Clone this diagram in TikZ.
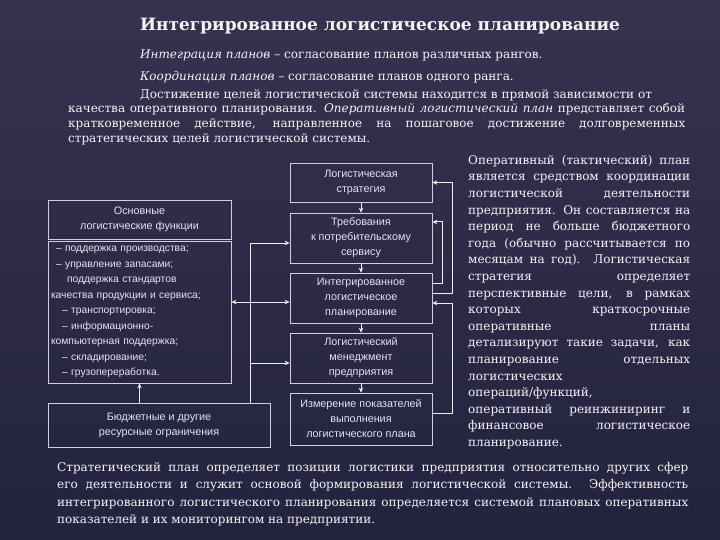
\documentclass[tikz,border=0pt]{standalone}
\usepackage{fontspec}
\setmainfont{DejaVu Serif}
\setsansfont{Liberation Sans}
\usepackage{xcolor}
\usepackage{tikz}
\usetikzlibrary{
    arrows.meta,
    positioning,
    calc
}
\definecolor{slidetop}{HTML}{36324F}
\definecolor{slidebottom}{HTML}{23233F}
\definecolor{boxline}{HTML}{D0D0DC}
\definecolor{boxtext}{HTML}{E4E4EC}
\definecolor{linkline}{HTML}{EDEDF4}
\definecolor{bodytext}{HTML}{F4F4F4}
\hyphenpenalty=10000

\begin{document}
\begin{tikzpicture}[
    x=1pt, y=-1pt,
    box/.style={rectangle, draw=boxline, line width=0.7pt, text=boxtext, align=center, inner sep=2pt, font=\fontsize{10.8}{15}\sffamily},
    body/.style={text=bodytext, inner sep=0pt, font=\fontsize{12}{14.7}\selectfont},
    arr/.style={draw=linkline, line width=1pt, -{Stealth[length=5pt, width=4.5pt]}},
    arrtwo/.style={draw=linkline, line width=1pt, {Stealth[length=5pt, width=4.5pt]}-{Stealth[length=5pt, width=4.5pt]}},
]
    % Background
    \shade[top color=slidetop, bottom color=slidebottom] (0,0) rectangle (720,540);
    \useasboundingbox (0,0) rectangle (720,540);

    % Title
    \node[body, anchor=base, font=\fontsize{17}{20}\selectfont\bfseries] (title) at (380,31) {Интегрированное логистическое планирование};

    % Definitions
    \node[body, anchor=base west] (defint) at (140,59) {\textit{Интеграция планов} – согласование планов различных рангов.};
    \node[body, anchor=base west] (defcoord) at (140,81) {\textit{Координация планов} – согласование планов одного ранга.};
    \node[body, anchor=north west, text width=617pt, align=justify] (intro) at (68,89) {\hspace*{72pt}Достижение целей логистической системы находится в прямой зависимости от\\
        качества оперативного планирования. \textit{Оперативный логистический план} представляет собой\linebreak
        кратковременное действие, направленное на пошаговое достижение долговременных\linebreak
        стратегических целей логистической системы.};

    % Centre column
    \node[box, minimum width=142pt, minimum height=39pt] (strat) at (361,182.5) {Логистическая\\стратегия};
    \node[box, minimum width=142pt, minimum height=50pt] (req) at (361,238) {Требования\\к потребительскому\\сервису};
    \node[box, minimum width=142pt, minimum height=50pt] (integ) at (361,298) {Интегрированное\\логистическое\\планирование};
    \node[box, minimum width=142pt, minimum height=50pt] (mgmt) at (361,358) {Логистический\\менеджмент\\предприятия};
    \node[box, minimum width=142pt, minimum height=52pt] (meas) at (361,419) {Измерение показателей\\выполнения\\логистического плана};

    % Left column
    \node[box, minimum width=183pt, minimum height=39pt] (funcs) at (139.5,219.5) {Основные\\логистические функции};
    \node[box, minimum width=183pt, minimum height=142pt, text width=177pt, inner xsep=3pt, align=left, font=\fontsize{10.3}{15.5}\sffamily] (funclist) at (139.5,312) {%
        \hspace*{5pt}– поддержка производства;\\
        \hspace*{5pt}– управление запасами;\\
        \hspace*{16pt}поддержка стандартов\\
        качества продукции и сервиса;\\
        \hspace*{11pt}– транспортировка;\\
        \hspace*{11pt}– информационно-\\
        компьютерная поддержка;\\
        \hspace*{11pt}– складирование;\\
        \hspace*{11pt}– грузопереработка.};
    \node[box, minimum width=222pt, minimum height=44pt] (budget) at (159,425) {Бюджетные и другие\\ресурсные ограничения};

    % Links down the centre column
    \foreach \a/\b in {strat/req, req/integ, integ/mgmt, mgmt/meas}
        \draw[arr] (\a) -- (\b);

    % Links from the left
    \coordinate (bus) at (250,243);
    \draw[arr] (budget.north -| funclist.south) -- (funclist.south);
    \draw[arr] (budget.north -| bus) -- (bus) -- (bus -| req.west);
    \draw[arr] ([yshift=-5pt]mgmt.west -| bus) -- ([yshift=-5pt]mgmt.west);
    \draw[arrtwo] ([yshift=-4pt]integ.west -| funclist.east) -- ([yshift=-4pt]integ.west);

    % Feedback on the right
    \draw[arr] ([yshift=15pt]integ.east) -- ++(10,0) |- ([yshift=16pt]req.east);
    \draw[arr] ([yshift=5pt]integ.east) -- ++(20,0) |- (strat.east);
    \draw[arr] ([yshift=6pt]meas.east) -- ++(20,0) |- ([yshift=-5pt]integ.east);

    % Right text
    \node[body, anchor=north west, text width=222pt, align=justify, font=\fontsize{12}{16.6}\selectfont] (tactic) at (468,155) {Оперативный (тактический) план\linebreak
        является средством координации\linebreak
        логистической деятельности\linebreak
        предприятия. Он составляется на\linebreak
        период не больше бюджетного\linebreak
        года (обычно рассчитывается по\linebreak
        месяцам на год). Логистическая\linebreak
        стратегия определяет\linebreak
        перспективные цели, в рамках\linebreak
        которых краткосрочные\linebreak
        оперативные планы\linebreak
        детализируют такие задачи, как\linebreak
        планирование отдельных\linebreak
        логистических\\
        операций/функций,\\
        оперативный реинжиниринг и\linebreak
        финансовое логистическое\linebreak
        планирование.};

    % Bottom text
    \node[body, anchor=north west, text width=631pt, align=justify, font=\fontsize{12}{17.5}\selectfont] (strategic) at (57,462) {Стратегический план определяет позиции логистики предприятия относительно других сфер\linebreak
        его деятельности и служит основой формирования логистической системы. Эффективность\linebreak
        интегрированного логистического планирования определяется системой плановых оперативных\linebreak
        показателей и их мониторингом на предприятии.};

\end{tikzpicture}
\end{document}
